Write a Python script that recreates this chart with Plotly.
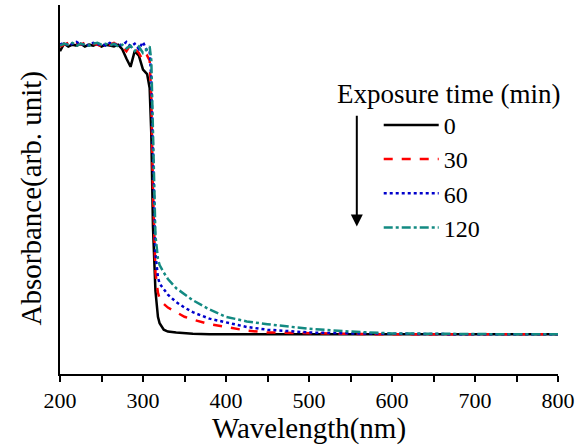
"""
UV-Vis absorbans spektrumlari — maruz kalma suresine gore (0/30/60/120 dk).
"""
import plotly.graph_objects as go

FONT = "Liberation Serif"

# dalga boyu noktalari (nm)
wavelength = [200, 205, 210, 215, 220, 225, 230, 235, 240, 245, 250, 255,
              260, 265, 270, 275, 280, 285, 290, 295, 300, 305,
              308, 310, 312, 315, 318, 320, 325, 330, 340, 350, 360, 380,
              400, 425, 450, 500, 550, 600, 650, 700, 750, 800]

exposure_labels = ["0", "30", "60", "120"]

abs_0 = [3.50, 3.58, 3.55, 3.57, 3.56, 3.58, 3.55, 3.57, 3.56, 3.58, 3.55, 3.57,
         3.56, 3.55, 3.57, 3.52, 3.42, 3.33, 3.50, 3.45, 3.30, 3.25,
         3.10, 2.60, 1.60, 0.90, 0.62, 0.55, 0.48, 0.46, 0.45, 0.44, 0.435, 0.43,
         0.43, 0.43, 0.43, 0.43, 0.43, 0.43, 0.43, 0.43, 0.43, 0.43]
abs_30 = [3.55, 3.57, 3.59, 3.56, 3.58, 3.57, 3.59, 3.56, 3.58, 3.57, 3.55, 3.58,
          3.57, 3.59, 3.56, 3.55, 3.50, 3.57, 3.52, 3.48, 3.40, 3.45,
          3.40, 3.00, 2.00, 1.10, 0.88, 0.82, 0.76, 0.72, 0.67, 0.62, 0.59, 0.54,
          0.51, 0.47, 0.45, 0.44, 0.435, 0.43, 0.43, 0.43, 0.43, 0.43]
abs_60 = [3.57, 3.59, 3.56, 3.58, 3.60, 3.57, 3.58, 3.56, 3.59, 3.57, 3.58, 3.56,
          3.59, 3.57, 3.58, 3.56, 3.60, 3.55, 3.58, 3.52, 3.60, 3.50,
          3.50, 3.20, 2.30, 1.30, 1.05, 0.98, 0.92, 0.86, 0.78, 0.72, 0.67, 0.60,
          0.56, 0.51, 0.48, 0.45, 0.44, 0.435, 0.43, 0.43, 0.43, 0.43]
abs_120 = [3.56, 3.58, 3.57, 3.59, 3.56, 3.58, 3.57, 3.56, 3.58, 3.59, 3.57, 3.58,
           3.56, 3.58, 3.55, 3.57, 3.53, 3.56, 3.50, 3.55, 3.48, 3.52,
           3.55, 3.40, 2.60, 1.50, 1.25, 1.18, 1.10, 1.03, 0.93, 0.86, 0.80, 0.70,
           0.62, 0.57, 0.54, 0.49, 0.46, 0.44, 0.435, 0.43, 0.43, 0.43]

series = [
    (abs_0, "#000000", "solid"),
    (abs_30, "#ff0000", "dash"),
    (abs_60, "#0000cc", "dot"),
    (abs_120, "#138a82", "dashdot"),
]

fig = go.Figure()

for (vals, color, dash), label in zip(series, exposure_labels):
    fig.add_trace(go.Scatter(
        x=wavelength, y=vals,
        mode="lines",
        name=label,
        line=dict(color=color, width=2.5, dash=dash),
    ))

fig.update_layout(
    width=585, height=445,
    paper_bgcolor="white", plot_bgcolor="white",
    font=dict(family=FONT, color="black", size=21),
    margin=dict(l=60, r=27, t=5, b=68),
    showlegend=True,
    legend=dict(
        x=0.64, y=0.735, xanchor="left", yanchor="top",
        bgcolor="rgba(0,0,0,0)",
        font=dict(family=FONT, size=24, color="black"),
        itemwidth=55,
    ),
    xaxis=dict(
        range=[200, 800],
        tickvals=[200, 300, 400, 500, 600, 700, 800],
        ticks="outside", ticklen=6, tickwidth=1.5, tickcolor="black",
        minor=dict(ticks="outside", dtick=50, ticklen=6, tickwidth=1.5,
                   tickcolor="black"),
        showline=True, linecolor="black", linewidth=2,
        showgrid=False, zeroline=False,
        title=dict(text="Wavelength(nm)", font=dict(family=FONT, size=29),
                   standoff=6),
        tickfont=dict(family=FONT, size=22, color="black"),
    ),
    yaxis=dict(
        range=[0, 4],
        showticklabels=False, ticks="",
        showline=True, linecolor="black", linewidth=2,
        showgrid=False, zeroline=False,
    ),
    annotations=[
        # y ekseni basligi (referansta biraz asagida)
        dict(
            text="Absorbance(arb. unit)", xref="paper", yref="y domain",
            x=-0.058, y=0.476, xanchor="center", yanchor="middle",
            textangle=-90, showarrow=False, font=dict(family=FONT, size=29),
        ),
        dict(
            text="Exposure time (min)", xref="x domain", yref="y domain",
            x=0.552, y=0.758, xanchor="left", yanchor="middle",
            showarrow=False, font=dict(family=FONT, size=27),
        ),
        dict(
            xref="x domain", yref="y domain",
            x=0.596, y=0.40, ax=0.596, ay=0.704,
            axref="x domain", ayref="y domain",
            showarrow=True, arrowhead=2, arrowsize=1.2, arrowwidth=2,
            arrowcolor="black", text="",
        ),
    ],
)

fig.write_html("out.html", config={"displayModeBar": False},
               post_script="document.body.style.margin='0';")
